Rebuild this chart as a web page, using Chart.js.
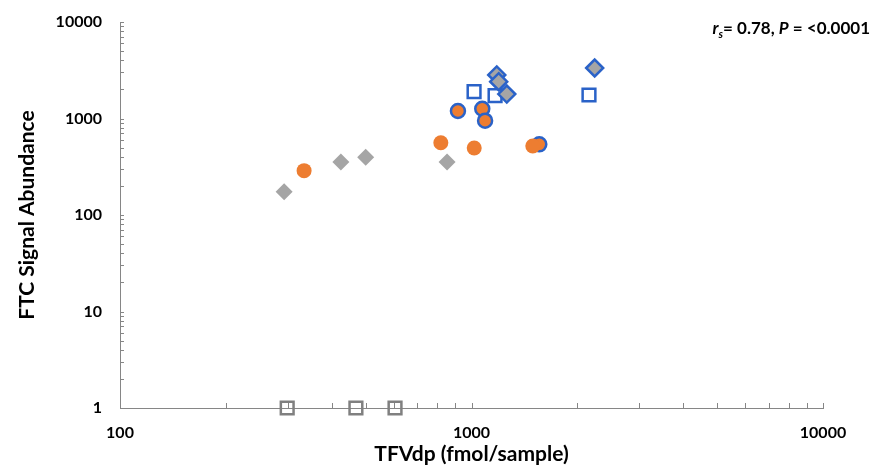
<!DOCTYPE html>
<html>
<head>
<meta charset="utf-8">
<script src="https://cdn.jsdelivr.net/npm/chart.js@4/dist/chart.umd.min.js"></script>
<style>
  html, body { margin: 0; padding: 0; background: #ffffff; }
  #wrap { width: 875px; height: 467px; position: relative; }
</style>
</head>
<body>
<div id="wrap"><canvas id="c" width="875" height="467"></canvas></div>
<script>
// ---- Data ----
const xTickValues = [100, 1000, 10000];
const yTickValues = [1, 10, 100, 1000, 10000];

// Gray diamonds (no border)
const grayDiamondX = [293, 425, 500, 852];
const grayDiamondY = [174, 354, 396, 354];

// Orange circles (no border)
const orangeX = [334, 818, 1018, 1494];
const orangeY = [288, 561, 494, 519];

// Orange circles with blue border
const orangeBlueX = [915, 1073, 1093, 1559];
const orangeBlueY = [1196, 1263, 949, 540];

// Open blue squares
const blueSquareX = [1017, 1167, 2159];
const blueSquareY = [1895, 1723, 1752];

// Gray diamonds with blue border
const grayBlueDiamondX = [1180, 1195, 1260, 2241];
const grayBlueDiamondY = [2825, 2406, 1793, 3337];

// Open gray squares (below detection, plotted at 1)
const graySquareX = [299, 469, 606];
const graySquareY = [1, 1, 1];

const pts = (xs, ys) => xs.map((x, i) => ({ x: x, y: ys[i] }));

const FONT = 'Lato, "Liberation Sans", Arial, sans-serif';
const AXIS_COLOR = '#868686';
const BLUE = '#2a62c8';
const ORANGE = '#ed7d31';
const GRAY = '#a5a5a5';

const minorTicks = {
  id: 'minorTicks',
  afterDraw(chart) {
    const ctx = chart.ctx;
    const xs = chart.scales.x, ys = chart.scales.y;
    ctx.save();
    ctx.strokeStyle = AXIS_COLOR;
    ctx.lineWidth = 1;
    ctx.beginPath();
    for (let d = 100; d < 10000; d *= 10) {
      for (let k = 2; k <= 10; k++) {
        const px = Math.round(xs.getPixelForValue(k * d)) + 0.5;
        ctx.moveTo(px, xs.top);
        ctx.lineTo(px, xs.top - 5);
      }
    }
    for (let d = 1; d < 10000; d *= 10) {
      for (let k = 2; k <= 10; k++) {
        const py = Math.round(ys.getPixelForValue(k * d)) + 0.5;
        ctx.moveTo(ys.right, py);
        ctx.lineTo(ys.right + 4, py);
      }
    }
    ctx.stroke();
    ctx.restore();
  }
};

const annotation = {
  id: 'annotation',
  afterDraw(chart) {
    const ctx = chart.ctx;
    ctx.save();
    ctx.fillStyle = '#000000';
    ctx.textBaseline = 'alphabetic';
    const size = 17;
    const parts = [
      { t: 'r', f: 'italic bold ' + size + 'px ' + FONT, dy: 0 },
      { t: 's', f: 'italic bold ' + Math.round(size * 0.62) + 'px ' + FONT, dy: 4 },
      { t: '= 0.78, ', f: 'bold ' + size + 'px ' + FONT, dy: 0 },
      { t: 'P', f: 'italic bold ' + size + 'px ' + FONT, dy: 0 },
      { t: ' = <0.0001', f: 'bold ' + size + 'px ' + FONT, dy: 0 }
    ];
    let total = 0;
    parts.forEach(p => { ctx.font = p.f; p.w = ctx.measureText(p.t).width; total += p.w; });
    let x = 870 - total;
    const y = 34;
    parts.forEach(p => { ctx.font = p.f; ctx.fillText(p.t, x, y + p.dy); x += p.w; });
    ctx.restore();
  }
};

const common = { showLine: false, clip: false };

new Chart(document.getElementById('c'), {
  type: 'scatter',
  data: {
    datasets: [
      Object.assign({ label: 'Orange', data: pts(orangeX, orangeY), pointStyle: 'circle', pointRadius: 7.5,
        backgroundColor: ORANGE, borderColor: ORANGE, borderWidth: 0 }, common),
      Object.assign({ label: 'Orange blue', data: pts(orangeBlueX, orangeBlueY), pointStyle: 'circle', pointRadius: 7,
        backgroundColor: ORANGE, borderColor: BLUE, borderWidth: 2.5 }, common),
      Object.assign({ label: 'Gray blue diamond', data: pts(grayBlueDiamondX, grayBlueDiamondY), pointStyle: 'rectRot', pointRadius: 8.5,
        backgroundColor: GRAY, borderColor: BLUE, borderWidth: 2.5 }, common),
      Object.assign({ label: 'Blue square', data: pts(blueSquareX, blueSquareY), pointStyle: 'rect', pointRadius: 9,
        backgroundColor: '#ffffff', borderColor: BLUE, borderWidth: 2.5 }, common),
      Object.assign({ label: 'Gray diamond', data: pts(grayDiamondX, grayDiamondY), pointStyle: 'rectRot', pointRadius: 8.5,
        backgroundColor: GRAY, borderColor: GRAY, borderWidth: 0 }, common),
      Object.assign({ label: 'Gray square', data: pts(graySquareX, graySquareY), pointStyle: 'rect', pointRadius: 9,
        backgroundColor: 'rgba(255,255,255,0)', borderColor: '#808080', borderWidth: 2.5 }, common)
    ]
  },
  options: {
    responsive: false,
    animation: false,
    events: [],
    layout: { padding: { top: 22, right: 52, left: 0, bottom: 0 } },
    plugins: { legend: { display: false }, tooltip: { enabled: false } },
    scales: {
      x: {
        type: 'logarithmic',
        min: 100, max: 10000,
        afterBuildTicks: s => { s.ticks = xTickValues.map(v => ({ value: v })); },
        afterFit: s => { s.height = 59; s.paddingLeft = 0; s.paddingRight = 0; },
        grid: { display: false, drawTicks: false },
        border: { display: true, color: AXIS_COLOR, width: 1 },
        ticks: { color: '#000000', font: { family: FONT, size: 16, weight: 'bold' }, padding: 15,
          callback: v => String(v), maxRotation: 0, autoSkip: false },
        title: { display: true, text: 'TFVdp (fmol/sample)', color: '#000000',
          font: { family: FONT, size: 21, weight: 'bold' }, padding: { top: 0, bottom: 0 } }
      },
      y: {
        type: 'logarithmic',
        min: 1, max: 10000,
        afterBuildTicks: s => { s.ticks = yTickValues.map(v => ({ value: v })); },
        afterFit: s => { s.width = 120; s.paddingTop = 0; s.paddingBottom = 0; },
        grid: { display: false, drawTicks: false },
        border: { display: true, color: AXIS_COLOR, width: 1 },
        ticks: { color: '#000000', font: { family: FONT, size: 16, weight: 'bold' }, padding: 18,
          callback: v => String(v), autoSkip: false },
        title: { display: true, text: 'FTC Signal Abundance', color: '#000000',
          font: { family: FONT, size: 21, weight: 'bold' }, padding: { top: 15, bottom: 0 } }
      }
    }
  },
  plugins: [minorTicks, annotation]
});
</script>
</body>
</html>
